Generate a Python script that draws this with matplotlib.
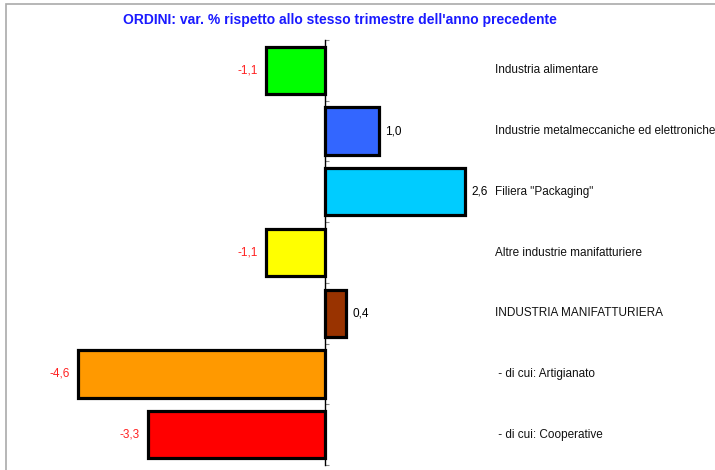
import matplotlib.pyplot as plt
import numpy as np

plt.rcParams['font.family'] = ['Liberation Sans', 'DejaVu Sans']

categories = ["Industria alimentare",
              "Industrie metalmeccaniche ed elettroniche",
              "Filiera \"Packaging\"",
              "Altre industrie manifatturiere",
              "INDUSTRIA MANIFATTURIERA",
              " - di cui: Artigianato",
              " - di cui: Cooperative"]
values = [-1.1, 1.0, 2.6, -1.1, 0.4, -4.6, -3.3]
colors = ["#00ff00", "#3366ff", "#00ccff", "#ffff00", "#993300", "#ff9900", "#ff0000"]

W, H = 715, 470
fig = plt.figure(figsize=(W / 100, H / 100), dpi=100)

# axes placed in pixel terms: zero line at x=325, 53.7 px per unit
x0, ppu = 325, 53.7
ax = fig.add_axes([0, 5 / H, 1, 425 / H])
ax.set_xlim(-x0 / ppu, (W - x0) / ppu)
ax.set_ylim(len(values) - 0.5, -0.5)

y = np.arange(len(values))
ax.barh(y, values, height=0.78, color=colors, edgecolor="black", linewidth=2.3)

for yi, v in zip(y, values):
    txt = f"{v:.1f}".replace(".", ",")
    if v < 0:
        ax.text(v - 0.15, yi, txt, ha="right", va="center", color="#ff2020", fontsize=8.5)
    else:
        ax.text(v + 0.12, yi, txt, ha="left", va="center", color="black", fontsize=8.5)

for yi, name in zip(y, categories):
    ax.text((495 - x0) / ppu, yi, name, ha="left", va="center", fontsize=8.5, color="#111111")

for s in ["top", "right", "bottom"]:
    ax.spines[s].set_visible(False)
ax.spines["left"].set_position(("data", 0))
ax.spines["left"].set_linewidth(1)
ax.set_yticks(np.arange(-0.5, len(values), 1))
ax.set_yticklabels([])
ax.tick_params(axis="y", direction="in", length=3, color="#888888")
ax.set_xticks([])
ax.patch.set_visible(False)

fig.text(340 / W, 1 - 20 / H,
         "ORDINI: var. % rispetto allo stesso trimestre dell'anno precedente",
         ha="center", va="center", color="#1a1aff", fontsize=10, fontweight="bold")

frame = plt.Rectangle((6 / W, -0.1), 1.2, 1 - 4 / H + 0.1, transform=fig.transFigure,
                      fill=False, edgecolor="#aaaaaa", linewidth=1.2)
fig.patches.append(frame)

fig.savefig("out.png", dpi=100)
